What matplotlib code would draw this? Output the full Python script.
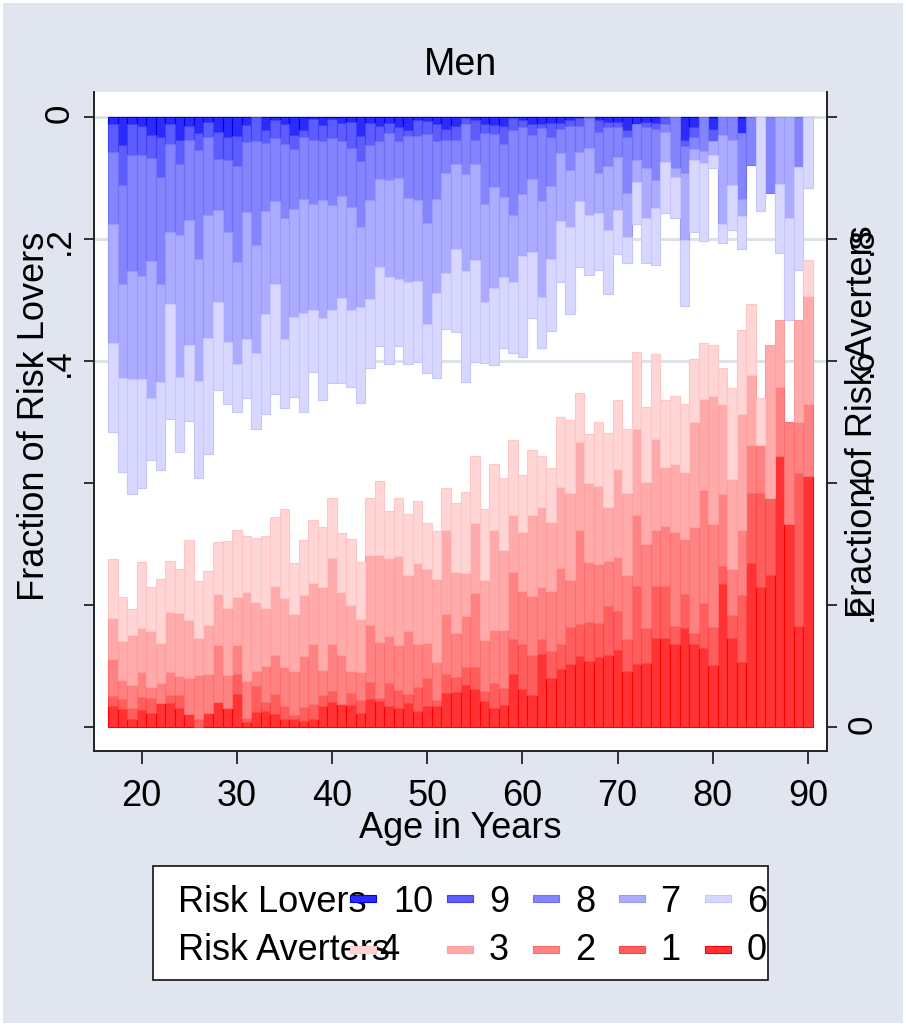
import numpy as np
import matplotlib
matplotlib.use("Agg")
import matplotlib.pyplot as plt
from matplotlib.patches import Rectangle

plt.rcParams['font.family'] = ['Liberation Sans', 'DejaVu Sans']

ages = np.arange(17, 91)

# share of risk lovers per age (10 = most risk loving)
lovers_10 = [.011, .046, .012, .014, .030, .032, .012, .038, .014, .027,
             .008, .025, .032, .031, .013, 0, .022, .005, .011, .030,
             .021, .004, .013, .004, .009, .008, .031, .009, .014, .010,
             .017, .021, .005, .006, .012, .019, .015, .002, .005, .011,
             .013, .014, .002, .005, .011, .011, .010, .010, .005, .002,
             0, .005, .008, .008, .021, .012, .008, .009, 0, 0,
             .037, .016, 0, .020, 0, 0, .027, 0, 0, 0,
             0, 0, 0, 0]
lovers_9 = [.046, .066, .051, .049, .037, .066, .033, .039, .023, .027,
            .025, .043, .038, .049, .028, .039, .021, .029, .033, .023,
            .012, .034, .027, .031, .030, .043, .041, .037, .025, .016,
            .022, .010, .026, .022, .028, .018, .022, .009, .032, .016,
            .015, .030, .020, .012, .019, .007, .022, .009, .010, .013,
            .002, .019, .009, .009, .011, 0, .009, .010, .012, 0,
            .011, .017, 0, .020, 0, 0, 0, 0, 0, 0,
            0, 0, 0, 0]
lovers_8 = [.118, .161, .190, .198, .169, .176, .143, .116, .131, .179,
            .127, .084, .118, .158, .114, .170, .111, .103, .121, .098,
            .101, .105, .096, .110, .090, .097, .109, .090, .063, .077,
            .061, .102, .105, .145, .095, .055, .040, .083, .040, .116,
            .086, .087, .138, .109, .072, .119, .081, .040, .072, .043,
            .048, .067, .064, .048, .093, .058, .066, .084, .012, .083,
            .044, .020, .055, 0, .030, .037, .108, .078, 0, .125,
            0, 0, .082, 0]
lovers_7 = [.195, .154, .176, .169, .224, .160, .118, .233, .205, .199,
            .202, .151, .180, .166, .208, .178, .169, .136, .199, .177,
            .187, .174, .193, .172, .167, .168, .130, .163, .143, .159,
            .166, .138, .133, .167, .153, .163, .140, .158, .158, .160,
            .167, .132, .110, .102, .120, .158, .119, .111, .094, .080,
            .111, .067, .104, .088, .072, .036, .083, .046, .049, .015,
            .109, .017, .020, .022, .146, .074, .028, 0, 0, 0,
            .110, .166, 0, 0]
lovers_6 = [.146, .154, .189, .178, .102, .144, .189, .123, .125, .160,
            .191, .144, .103, .079, .098, .125, .164, .181, .113, .131,
            .163, .101, .134, .119, .140, .126, .158, .113, .131, .143,
            .110, .133, .133, .080, .140, .093, .136, .182, .167, .100,
            .126, .116, .116, .166, .108, .084, .119, .100, .142, .107,
            .098, .093, .105, .072, .043, .070, .074, .093, .085, .068,
            .109, .119, .129, .021, .030, .074, .054, 0, .154, 0,
            .113, .167, .169, .117]

# share of risk averters per age (0 = most risk averse)
averters_0 = [.034, .030, .013, .028, .024, .040, .040, .032, .022, 0,
              .024, .042, .031, .054, .008, .025, .026, .022, .014, .014,
              .010, .013, .035, .042, .038, .037, .023, .046, .043, .035,
              .031, .040, .026, .034, .034, .056, .057, .069, .063, .043,
              .032, .037, .087, .063, .053, .120, .081, .095, .103, .117,
              .109, .115, .119, .126, .092, .104, .105, .147, .146, .137,
              .163, .137, .129, .102, .234, .147, .107, .269, .230, .250,
              .444, .333, .166, .412]
averters_1 = [.017, .017, .018, .021, .024, 0, .012, .020, 0, .013,
              0, 0, 0, .033, .007, .042, .016, .033, .021, .006,
              .023, .025, .018, .017, 0, .019, .022, .028, .005, .037,
              .030, .015, .040, .046, .011, .031, .025, .030, .036, .017,
              .040, .027, .058, .074, .066, .025, .044, .042, .061, .052,
              .064, .055, .080, .064, .052, .127, .057, .084, .085, .029,
              .055, .018, .075, .063, .030, .037, .109, .115, .154, .126,
              0, 0, .250, 0]
averters_2 = [.061, .030, .038, .042, .018, .032, .039, .032, .058, .073,
              .064, .092, .055, .048, .061, .025, .059, .063, .064, .072,
              .084, .098, .041, .077, .080, .036, .045, .094, .091, .077,
              .074, .103, .071, .058, .062, .099, .073, .084, .121, .083,
              .087, .096, .109, .086, .096, .084, .098, .124, .077, .154,
              .097, .098, .073, .089, .105, .117, .139, .093, .098, .154,
              .091, .173, .184, .168, .119, .075, .108, .078, .078, 0,
              .113, .167, .084, .118]
averters_3 = [.067, .064, .082, .072, .091, .066, .098, .103, .095, .060,
              .079, .084, .110, .079, .146, .113, .094, .114, .113, .094,
              .099, .101, .136, .142, .103, .109, .087, .114, .144, .128,
              .145, .091, .132, .121, .136, .137, .099, .070, .115, .099,
              .165, .131, .094, .097, .132, .132, .114, .133, .143, .145,
              .130, .128, .089, .144, .135, .140, .101, .148, .098, .111,
              .109, .172, .150, .209, .147, .148, .190, .115, 0, .250,
              .111, 0, .168, .177]
averters_4 = [.096, .072, .043, .107, .073, .105, .084, .072, .132, .094,
              .089, .085, .109, .110, .091, .105, .119, .113, .145, .083,
              .090, .102, .098, .097, .098, .108, .093, .093, .121, .077,
              .096, .101, .102, .075, .078, .069, .114, .133, .109, .116,
              .107, .117, .123, .093, .108, .084, .087, .115, .120, .079,
              .081, .104, .121, .113, .105, .127, .123, .140, .109, .112,
              .111, .104, .092, .084, .059, .149, .137, .116, .078, 0,
              0, 0, 0, .059]

lover_labels = ["10", "9", "8", "7", "6"]
averter_labels = ["4", "3", "2", "1", "0"]

# colours in category order: lovers 10..6, averters 0..4
blue_fill = ['#2B2BFF', '#5C5CFF', '#8484FF', '#ABABFF', '#D7D7FF']
blue_edge = ['#0000E0', '#4040F0', '#7070F2', '#9999F5', '#C6C6FA']
red_fill = ['#FF3333', '#FF5E5E', '#FF8282', '#FFABAB', '#FFD5D5']
red_edge = ['#FF0000', '#FF4545', '#FF6E6E', '#FF9C9C', '#FFC6C6']

bg = '#E0E5EF'
W, H = 906, 1026
FS = 26

fig = plt.figure(figsize=(W / 100, H / 100), dpi=100, facecolor='white')
fig.patches.append(Rectangle((3 / W, 3 / H), 1 - 6 / W, 1 - 6 / H,
                             transform=fig.transFigure, facecolor=bg,
                             edgecolor='none', zorder=-5))

ax = fig.add_axes([93.6 / W, 1 - 751 / H, 733 / W, 659 / H])
ax.set_facecolor('white')
ax2 = ax.twinx()

# risk lovers: stacked down from the top (left axis, reversed)
lovers = [lovers_10, lovers_9, lovers_8, lovers_7, lovers_6]
bottom = np.zeros(len(ages))
for vals, fc, ec in zip(lovers, blue_fill, blue_edge):
    v = np.array(vals)
    m = v > 0
    ax.bar(ages[m], v[m], width=1.0, bottom=bottom[m], color=fc,
           edgecolor=ec, linewidth=0.8, zorder=3)
    bottom += v

# risk averters: stacked up from the bottom (right axis)
averters = [averters_0, averters_1, averters_2, averters_3, averters_4]
bottom = np.zeros(len(ages))
for vals, fc, ec in zip(averters, red_fill, red_edge):
    v = np.array(vals)
    m = v > 0
    ax2.bar(ages[m], v[m], width=1.0, bottom=bottom[m], color=fc,
            edgecolor=ec, linewidth=0.8, zorder=3)
    bottom += v

for g in [0, .2, .4]:
    ax.axhline(g, color='#DDE2EA', linewidth=2.2, zorder=1)

ax.set_xlim(14.96, 91.95)
ax.set_ylim(1.039, -0.041)
ax2.set_ylim(-0.039, 1.041)

yt = [0, .2, .4, .6, .8, 1]
ax.set_yticks(yt)
ax.set_yticklabels(['0', '.2', '.4', '', '', ''])
ax2.set_yticks(yt)
ax2.set_yticklabels(['0', '.2', '.4', '.6', '.8', ''])
ax.set_xticks(range(20, 91, 10))

ax.tick_params(axis='y', direction='out', length=7, width=1.1,
               labelsize=FS - 1, labelrotation=90, pad=6)
ax2.tick_params(axis='y', direction='out', length=7, width=1.1,
                labelsize=FS - 1, labelrotation=90, pad=7)
ax.tick_params(axis='x', direction='out', length=9.5, width=1.1,
               labelsize=FS, pad=11)

for a in (ax, ax2):
    a.spines['top'].set_visible(False)
    for s in ('left', 'right', 'bottom'):
        a.spines[s].set_linewidth(1.2)
        a.spines[s].set_color('#222222')

fig.text(460 / W, 1 - 65 / H, "Men", ha='center', va='center', fontsize=FS + 1)
fig.text(460 / W, 1 - 828 / H, "Age in Years", ha='center', va='center',
         fontsize=FS)
fig.text(35 / W, 1 - 416 / H, "Fraction of Risk Lovers", rotation=90,
         ha='center', va='center', fontsize=FS)
fig.text(862 / W, 1 - 422 / H, "Fraction of Risk Averters", rotation=90,
         ha='center', va='center', fontsize=FS)

# legend drawn in pixel coordinates
lg = fig.add_axes([0, 0, 1, 1])
lg.set_xlim(0, W)
lg.set_ylim(H, 0)
lg.axis('off')
lg.add_patch(Rectangle((152.8, 866), 615, 114, facecolor='white',
                       edgecolor='#111111', linewidth=1.2, zorder=1))
lg.text(178, 902, "Risk Lovers", ha='left', va='center', fontsize=FS, zorder=2)
lg.text(178, 950, "Risk Averters", ha='left', va='center', fontsize=FS, zorder=2)
key_x = [350, 447, 533, 619, 705]
row1_lx = [393, 489, 575, 660, 747]
row2_lx = [379, 489, 575, 660, 747]
for i in range(5):
    lg.add_patch(Rectangle((key_x[i], 895), 26, 7, facecolor=blue_fill[i],
                           edgecolor=blue_edge[i], linewidth=0.8, zorder=3))
    lg.text(row1_lx[i], 902, lover_labels[i], ha='left', va='center',
            fontsize=FS, zorder=2)
    lg.add_patch(Rectangle((key_x[i], 946), 26, 7, facecolor=red_fill[4 - i],
                           edgecolor=red_edge[4 - i], linewidth=0.8, zorder=3))
    lg.text(row2_lx[i], 950, averter_labels[i], ha='left', va='center',
            fontsize=FS, zorder=4)

fig.savefig("out.png", dpi=100, facecolor=fig.get_facecolor())
